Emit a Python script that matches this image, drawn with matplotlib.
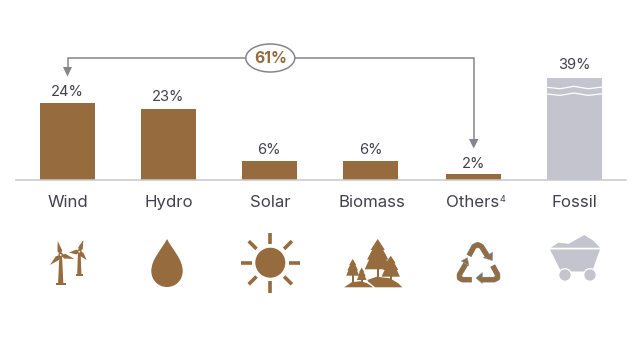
import matplotlib
matplotlib.use('Agg')
import matplotlib.pyplot as plt
from matplotlib.patches import Circle, Ellipse, Polygon, PathPatch
from matplotlib.path import Path
import numpy as np

plt.rcParams['font.family'] = ['Inter', 'DejaVu Sans']

categories = ['Wind', 'Hydro', 'Solar', 'Biomass', 'Others', 'Fossil']
value_labels = ['24%', '23%', '6%', '6%', '2%', '39%']
# drawn heights in percent points, the fossil bar is cut so it is shorter than 39
bar_heights = [24, 22.1, 6, 6, 1.7, 31.8]
bracket_label = '61%'
footnote = '4'

BROWN = '#966b3d'
GREY = '#c4c4ce'
TEXT = '#42424c'
ARROW = '#85858f'
BLUE = '#6a9cc8'

# small layout corrections, in pixels
BAR_SHIFT = [0, -0.7, -1.1, -0.8, 0.4, 0]
LABEL_GAP = [10.7, 12, 11, 11, 10, 12.5]

fig = plt.figure(figsize=(6.4, 3.6), dpi=100)

# bars: one category step is 101.3 px, one percent point is 3.2 px
ax = fig.add_axes([16 / 640, (360 - 179.7) / 360, 610 / 640, 140 / 360])
ax.set_xlim((16 - 67.7) / 101.3, (626 - 67.7) / 101.3)
ax.set_ylim(0, 140 / 3.2)
ax.patch.set_alpha(0)
colors = [BROWN] * 5 + [GREY]
xpos = np.arange(6) + np.array(BAR_SHIFT) / 101.3
ax.bar(xpos, bar_heights, width=0.545, color=colors, zorder=2)
for i, h in enumerate(bar_heights):
    ax.text(xpos[i], h + LABEL_GAP[i] / 3.2, value_labels[i], ha='center', va='center', fontsize=10.6, color=TEXT)
    ax.text(i, -27 / 3.2, categories[i], ha='center', va='baseline', fontsize=12.1, color=TEXT)
for s in ['top', 'left', 'right']:
    ax.spines[s].set_visible(False)
ax.spines['bottom'].set_color('#c8c8c8')
ax.spines['bottom'].set_linewidth(1.1)
ax.set_xticks([])
ax.set_yticks([])

# overlay in pixels for the bracket, the break and the icons
ov = fig.add_axes([0, 0, 1, 1])
ov.set_xlim(0, 640)
ov.set_ylim(360, 0)
ov.axis('off')
ov.patch.set_alpha(0)

ov.text(499.5, 201.5, footnote, ha='left', va='baseline', fontsize=6.6, color=TEXT)

# bracket
ov.plot([67.5, 67.5, 473.7, 473.7], [68, 58.3, 58.3, 140], color=ARROW, lw=1.1, solid_joinstyle='miter')
ov.add_patch(Polygon([[63, 67], [72, 67], [67.5, 76.7]], color=ARROW, lw=0))
ov.add_patch(Polygon([[469, 139], [478.5, 139], [473.7, 148.5]], color=ARROW, lw=0))
ov.add_patch(Ellipse((270.3, 58), 49, 28, fc='white', ec=ARROW, lw=1.1, zorder=3))
ov.text(270.3, 58.5, bracket_label, ha='center', va='center', fontsize=11.3, fontweight='bold', color=BROWN, zorder=4)

# break marks on the fossil bar
for y0 in [87.3, 94]:
    ov.plot([547, 560, 574, 588, 602], [y0, y0 + 1.4, y0 - 1, y0 + 1.4, y0 - 0.2], color='white', lw=0.9, zorder=4)

# wind
def turbine(hub, base_y, tips, w, foot):
    hx, hy = hub
    ov.add_patch(Polygon([[hx - 1.3, hy], [hx + 1.3, hy], [hx + w, base_y - 1.5], [hx - w, base_y - 1.5]], color=BROWN, lw=0))
    ov.add_patch(Polygon([[hx - foot, base_y - 1.5], [hx + foot, base_y - 1.5], [hx + foot, base_y], [hx - foot, base_y]], color=BROWN, lw=0))
    for tx, ty in tips:
        dx, dy = tx - hx, ty - hy
        n = np.hypot(dx, dy)
        px, py = -dy / n * 2.4, dx / n * 2.4
        mx, my = hx + dx * 0.3, hy + dy * 0.3
        ov.add_patch(Polygon([[hx, hy], [mx + px, my + py], [tx, ty], [mx - px, my - py]], color=BROWN, lw=0))
    ov.add_patch(Circle(hub, 2.4, fc=BROWN, lw=0, zorder=3))
    ov.add_patch(Circle(hub, 0.9, fc='white', lw=0, zorder=4))

turbine((60.7, 255), 284.5, [(57.7, 241), (50, 265), (74.3, 259)], 2.6, 5)
turbine((79.3, 251.7), 275.7, [(83.3, 240), (69, 252.7), (86.7, 260)], 2.1, 3.5)

# drop
drop = Path([(167, 239), (162, 249), (151.3, 259), (151.3, 271), (151.3, 280), (158, 287), (167, 287),
             (176, 287), (182.7, 280), (182.7, 271), (182.7, 259), (172, 249), (167, 239)],
            [Path.MOVETO] + [Path.CURVE4] * 12)
ov.add_patch(PathPatch(drop, fc=BROWN, lw=0))

# sun
ov.add_patch(Circle((270.3, 262.7), 15, fc=BROWN, lw=0))
for k in range(8):
    a = k * np.pi / 4
    r1, r2 = (19.5, 30.5) if k % 2 else (18.5, 29.8)
    ca, sa = np.cos(a), np.sin(a)
    ov.plot([270.3 + r1 * ca, 270.3 + r2 * ca], [262.7 + r1 * sa, 262.7 + r2 * sa], color=BROWN, lw=2.6, solid_capstyle='butt')

# trees
def tree(cx, top, base, half, trunk_y):
    ov.add_patch(Polygon([[cx - 1.2, base - 1], [cx + 1.2, base - 1], [cx + 1.2, trunk_y], [cx - 1.2, trunk_y]], color=BROWN, lw=0))
    h = base - top
    right = [[0, 0], [0.55, 0.36], [0.42, 0.36], [0.82, 0.68], [0.66, 0.68], [1, 1]]
    pts = [[cx + half * a, top + h * b] for a, b in right]
    pts += [[cx - half * a, top + h * b] for a, b in right[:0:-1]]
    ov.add_patch(Polygon(pts, color=BROWN, lw=0))

tree(377.7, 239, 269.3, 13, 277)
tree(352.7, 259, 275.7, 6.5, 283)
tree(361.7, 267.7, 280, 4.8, 285)
tree(390.7, 255.7, 276.7, 9.2, 283)
ov.add_patch(Polygon([[344, 287.3], [351.7, 282.3], [360, 281.2], [366.7, 283], [373.3, 287.3]], color=BROWN, lw=0))
ov.add_patch(Polygon([[367.3, 280], [376.7, 276.7], [390, 278.3], [398.3, 283.3], [402.3, 287.3], [375, 287.3], [368.3, 281.7]], color=BROWN, lw=0))

# recycling arrows
def bend(pts, head):
    ov.plot(*zip(*pts), color=BLUE, lw=4.0, solid_joinstyle='round', solid_capstyle='butt')
    ov.plot(*zip(*pts), color=BROWN, lw=3.4, solid_joinstyle='round', solid_capstyle='butt')
    ov.add_patch(Polygon(head, fc=BROWN, ec=BLUE, lw=0.4))

bend([(469, 255.7), (474, 246.5), (477.8, 244.7), (481.5, 246.5), (487.7, 256.5)], [(483.3, 257.7), (492.7, 252.3), (492.3, 260.5)])
bend([(465.7, 264), (459.5, 274.5), (459.5, 278), (462.5, 279.7), (471.7, 279.7)], [(461.3, 261), (467.3, 257.7), (469, 265.7)])
bend([(481, 279.7), (494, 279.7), (497.5, 278), (497.5, 274.5), (492.7, 265.7)], [(476, 278), (482.3, 272.5), (482.3, 283.5)])

# mine cart
ov.add_patch(Polygon([[550, 249.5], [600, 249.5], [592, 271.5], [561, 271.5]], color=GREY, lw=0))
ov.add_patch(Polygon([[551, 247.7], [558.3, 242.7], [565, 243.3], [568.3, 244], [584.3, 235], [593.3, 240.7], [600, 247.7]], color=GREY, lw=0))
for wx in [565, 590]:
    ov.add_patch(Circle((wx, 275), 6.3, fc=GREY, ec='white', lw=0.9, zorder=3))

fig.savefig('out.png', dpi=100, facecolor='white')
